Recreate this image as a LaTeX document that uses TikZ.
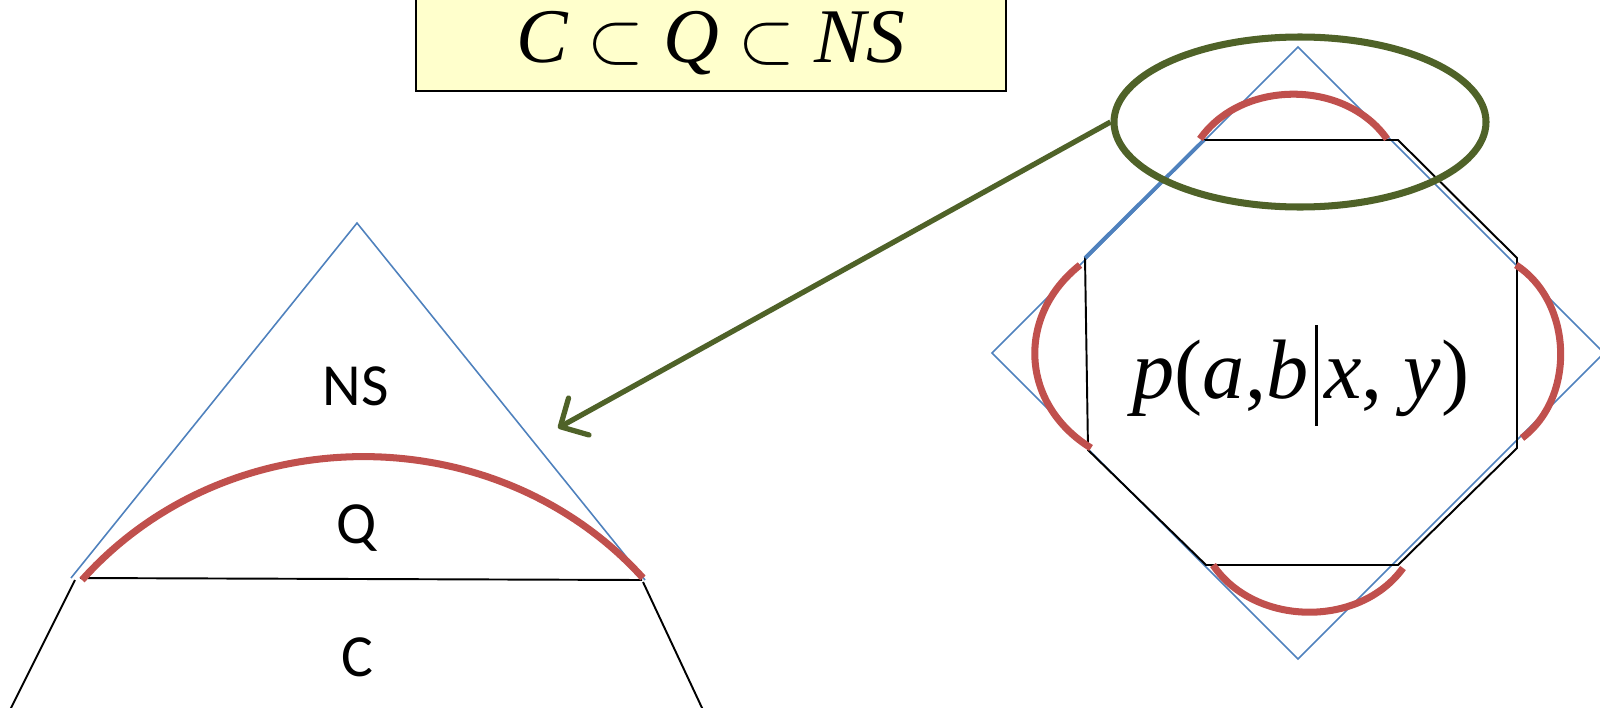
\documentclass[tikz,border=0pt]{standalone}
\usepackage{fontspec}
\setmainfont{Liberation Serif}
\newfontfamily\calibri{Carlito}
\usepackage{xcolor}
\usepackage{tikz}
\usetikzlibrary{arrows.meta,shapes.geometric}
\definecolor{nsblue}{HTML}{4F81BD}
\definecolor{qred}{HTML}{C0504D}
\definecolor{zoomgreen}{HTML}{4F6228}
\definecolor{boxyellow}{HTML}{FFFFCC}

\begin{document}
\begin{tikzpicture}[
  thinblue/.style={draw=nsblue, line width=0.45pt},
  edge/.style={draw=black, line width=0.55pt},
  qarc/.style={draw=qred, line width=2pt},
  facearc/.style={qarc, bend left=55},
  lbl/.style={font=\calibri\fontsize{17}{20}\selectfont, anchor=base, inner sep=0pt},
  arr/.style={-{Straight Barb[length=6pt,width=12pt,round]}, draw=zoomgreen, line width=1.5pt}
]
\useasboundingbox (0,0) rectangle (16,-7.07);

\node[draw, line width=0.6pt, fill=boxyellow, minimum width=5.9cm, minimum height=1.1cm,
  text height=0.52cm, text depth=0pt, font=\fontsize{22}{26}\selectfont] (incl) at (7.11,-0.36)
  {\itshape C $\subset$ Q $\subset$ NS};

% left: NS triangle, Q arc, C below
\coordinate (apex) at (3.57,-2.23);
\coordinate (nsL) at (0.71,-5.78);
\coordinate (nsR) at (6.45,-5.80);
\draw[thinblue] (nsL) -- (apex) -- (nsR);
\draw[edge] (0.80,-5.78) -- (6.42,-5.80);
\draw[edge] (0.75,-5.80) -- (0.10,-7.10);
\draw[edge] (6.43,-5.82) -- (7.03,-7.10);
\draw[qarc] (0.82,-5.80) to[bend left=48] (6.43,-5.78);

\node[lbl] (ns) at (3.56,-4.05) {NS};
\node[lbl] (q) at (3.57,-5.43) {Q};
\node[lbl] (c) at (3.57,-6.76) {C};

% right: polytope of p(a,b|x,y)
\coordinate (dT) at (12.98,-0.47);
\coordinate (dR) at (16.04,-3.53);
\coordinate (dB) at (12.98,-6.59);
\coordinate (dL) at (9.92,-3.53);
\draw[thinblue] (dT) -- (dR) -- (dB) -- (dL) -- cycle;

\coordinate (o1) at (12.04,-1.40);
\coordinate (o2) at (13.98,-1.40);
\coordinate (o3) at (15.17,-2.58);
\coordinate (o4) at (15.17,-4.48);
\coordinate (o5) at (13.98,-5.65);
\coordinate (o6) at (12.06,-5.65);
\coordinate (o7) at (10.88,-4.50);
\coordinate (o8) at (10.85,-2.58);
\draw[edge] (o1) -- (o2) -- (o3) -- (o4) -- (o5) -- (o6) -- (o7) -- (o8) -- cycle;
\draw[draw=nsblue, line width=1.1pt] (o8) -- (o1);

\draw[facearc] (12.00,-1.39) to (13.87,-1.39);
\draw[facearc] (15.16,-2.65) to (15.22,-4.38);
\draw[facearc] (14.03,-5.68) to (12.13,-5.65);
\draw[facearc, looseness=1.15] (10.91,-4.48) to (10.80,-2.65);

\node[anchor=base, font=\fontsize{24}{29}\selectfont] (prob) at (13.01,-3.98)
  {\textit{p}(\textit{a},\textit{b}\hspace{0.08em}\rule[-0.33em]{0.03em}{1.2em}\hspace{0.08em}\textit{x}, \textit{y})};

\node[draw=zoomgreen, line width=2pt, ellipse, minimum width=3.72cm, minimum height=1.70cm, inner sep=0pt] (zoom) at (13.00,-1.22) {};
\coordinate (nstip) at (5.58,-4.28);
\draw[arr] (zoom.west) -- (nstip);

\end{tikzpicture}
\end{document}
